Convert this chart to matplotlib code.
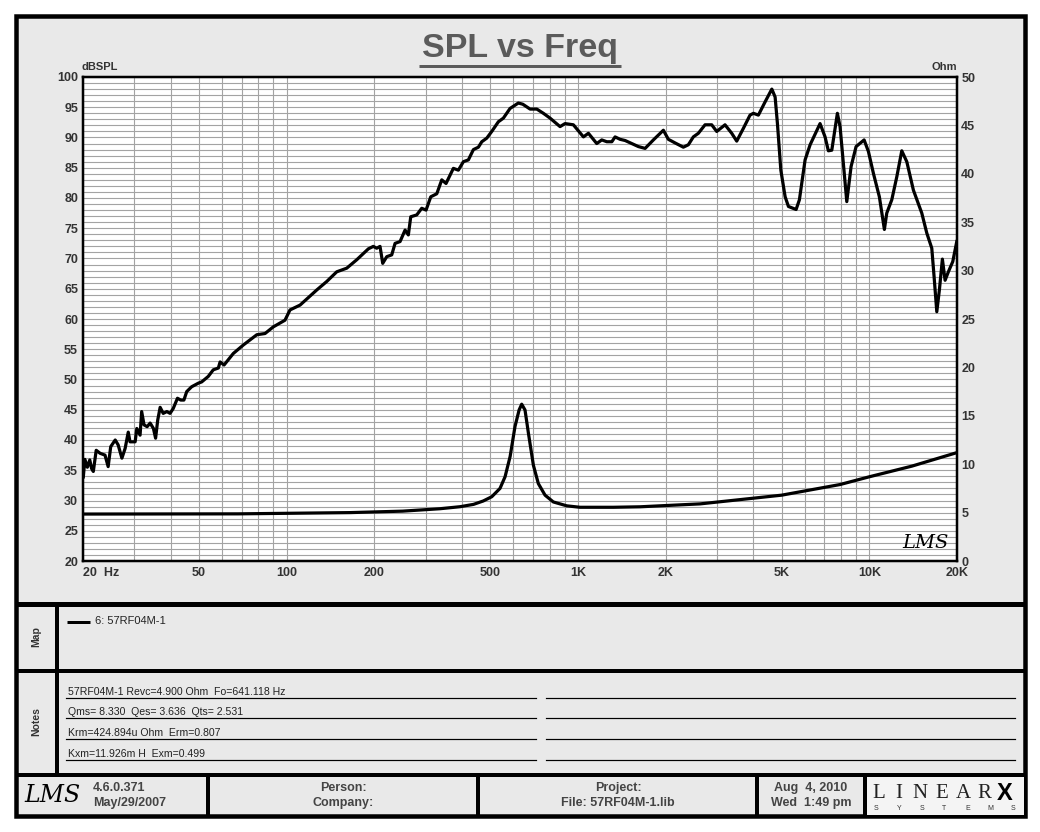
import numpy as np
import matplotlib.pyplot as plt
from matplotlib.patches import Rectangle
from matplotlib.ticker import NullFormatter

plt.rcParams['font.family'] = ['Liberation Sans', 'DejaVu Sans']

# ----------------------------
# Data
# ----------------------------
spl_freq = [20.05, 20.3, 20.7, 21.1, 21.4, 21.7, 22.2, 22.9, 23.8, 24.4, 24.9, 25.8, 26.4, 27.2,
            27.9, 28.6, 29.0, 30.2, 30.6, 31.4, 31.8, 32.4, 33.2, 34.0, 34.9, 35.5, 36.1, 36.8,
            37.7, 38.8, 39.8, 40.8, 42.2, 43.3, 44.4, 45.4, 47.2, 49.8, 51.1, 53.8, 56.0, 58.3,
            59.1, 61.0, 65.6, 71.0, 79.0, 84.3, 90.0, 98.7, 102.7, 111.2, 126.9, 137.3, 148.6,
            160.8, 174.1, 190.8, 198.4, 203.8, 209.2, 213.7, 220.6, 229.5, 235.6, 245.1, 255.0,
            261.7, 266.7, 279.6, 290.9, 301.0, 312.4, 327.6, 340.8, 352.5, 373.5, 388.6, 404.3,
            420.6, 437.6, 455.2, 467.6, 486.5, 505.9, 533.1, 554.6, 584.6, 624.3, 646.5, 684.8,
            722.1, 760.8, 802.1, 868, 903, 964.5, 1044, 1086, 1160, 1207, 1256, 1307, 1341, 1395,
            1452, 1531, 1612, 1700, 1815, 1964, 2043, 2155, 2300, 2393, 2489, 2590, 2730, 2878,
            2994, 3197, 3371, 3507, 3695, 3896, 4001, 4162, 4390, 4628, 4750, 4838, 4970, 5142,
            5278, 5607, 5755, 6020, 6264, 6776, 7050, 7236, 7434, 7770, 7937, 8370, 8659, 9008,
            9598, 9929, 10327, 10828, 11266, 11480, 11944, 12427, 12926, 13449, 14170, 15141,
            15753, 16386, 16687, 17048, 17401, 17818, 18203, 18683, 19344, 19964]
spl_db = [33.9, 36.8, 35.5, 36.7, 35.3, 34.8, 38.3, 37.8, 37.5, 35.6, 38.9, 40.0, 39.2, 37.0,
          38.6, 41.3, 39.7, 39.7, 41.9, 40.8, 44.7, 42.5, 42.2, 42.8, 41.9, 40.3, 43.3, 45.4,
          44.4, 44.7, 44.4, 45.2, 46.9, 46.6, 46.6, 48.0, 48.8, 49.4, 49.6, 50.5, 51.6, 51.9,
          52.9, 52.4, 54.3, 55.7, 57.4, 57.6, 58.7, 59.8, 61.5, 62.3, 64.8, 66.2, 67.8,
          68.4, 69.8, 71.6, 72.0, 71.7, 72.0, 69.2, 70.3, 70.6, 72.5, 72.8, 74.7,
          73.9, 76.9, 77.2, 78.3, 78.0, 80.2, 80.7, 83.0, 82.4, 84.9, 84.6, 86.0,
          86.3, 88.0, 88.4, 89.3, 89.9, 91.0, 92.6, 93.2, 94.8, 95.7, 95.5, 94.7,
          94.7, 94.0, 93.2, 91.8, 92.3, 92.1, 90.1, 90.7, 89.0, 89.6, 89.3, 89.3, 90.1, 89.7,
          89.5, 89.0, 88.5, 88.2, 89.6, 91.2, 89.7, 89.1, 88.4, 88.8, 90.1, 90.7, 92.1, 92.1,
          91.0, 92.1, 90.7, 89.4, 91.5, 93.7, 94.0, 93.7, 95.9, 98.0, 96.7, 92.3, 84.6, 80.2,
          78.6, 78.1, 79.7, 86.3, 88.8, 92.3, 90.1, 87.8, 87.9, 94.0, 91.8, 79.4, 85.2, 88.5,
          89.6, 87.7, 84.1, 80.2, 74.8, 77.5, 79.7, 83.5, 87.8, 86.0, 81.3, 77.5,
          74.2, 71.7, 67.0, 61.2, 64.8, 69.9, 66.4, 67.8, 69.5, 72.8]

imp_freq = [20, 68, 165, 250, 336, 394, 438, 473, 506, 540, 562, 585, 608, 628, 641, 658, 676,
            703, 731, 771, 823, 915, 1016, 1322, 1634, 2625, 5000, 7937, 10000, 14000, 20000]
imp_ohm = [4.85, 4.87, 5.0, 5.15, 5.4, 5.61, 5.85, 6.2, 6.64, 7.5, 8.7, 10.8, 13.9, 15.6, 16.2,
           15.6, 13.2, 9.9, 8.0, 6.8, 6.1, 5.7, 5.55, 5.55, 5.6, 5.9, 6.8, 7.9, 8.7, 9.8, 11.2]

x_ticks = [20, 50, 100, 200, 500, 1000, 2000, 5000, 10000, 20000]
x_labels = ["20  Hz", "50", "100", "200", "500", "1K", "2K", "5K", "10K", "20K"]
spl_ticks = list(range(20, 101, 5))
ohm_ticks = list(range(0, 51, 5))

notes = ["57RF04M-1 Revc=4.900 Ohm  Fo=641.118 Hz",
         "Qms= 8.330  Qes= 3.636  Qts= 2.531",
         "Krm=424.894u Ohm  Erm=0.807",
         "Kxm=11.926m H  Exm=0.499"]

W, H = 1040, 832
PX = 0.72  # points per pixel at 100 dpi
PANEL = '#e9e9e9'
TXT = '#333333'

fig = plt.figure(figsize=(W / 100, H / 100), dpi=100)
fig.patch.set_facecolor('white')

# pixel-space background layer for frame, panels and dividers
bg = fig.add_axes([0, 0, 1, 1])
bg.set_xlim(0, W)
bg.set_ylim(H, 0)
bg.axis('off')

bg.add_patch(Rectangle((16, 16), 1008.5, 799.5, fc=PANEL, ec='black', lw=4.5 * PX))
bg.add_patch(Rectangle((867, 777), 157, 38, fc='#f4f4f4', ec='none'))
for y, w in [(603.5, 5), (671, 4), (775, 4)]:
    bg.plot([16, 1024.5], [y, y], color='black', lw=w * PX, solid_capstyle='butt')
bg.plot([57, 57], [603.5, 775], color='black', lw=4 * PX, solid_capstyle='butt')
for x in [208, 478, 757, 865]:
    bg.plot([x, x], [775, 815.5], color='black', lw=4 * PX, solid_capstyle='butt')


def ptext(x, y, s, **kw):
    kw.setdefault('va', 'center')
    return fig.text(x / W, 1 - y / H, s, **kw)


# title
ptext(520, 48, "SPL vs Freq", ha='center', fontsize=24.5, fontweight='bold', color='#5b5b5b')
bg.plot([419, 621], [65.5, 65.5], color='#5b5b5b', lw=3 * PX, solid_capstyle='butt')
ptext(82, 67, "dBSPL", ha='left', fontsize=8, fontweight='bold', color=TXT)
ptext(957, 67, "Ohm", ha='right', fontsize=8, fontweight='bold', color=TXT)

# ----------------------------
# main chart
# ----------------------------
ax = fig.add_axes([83 / W, 1 - 561 / H, 874 / W, 484 / H])
ax.set_facecolor('white')
ax.set_xscale('log')
ax.set_xlim(20, 20000)
ax.set_ylim(20, 100)

grid_freqs = [k * 10 ** e for e in (1, 2, 3, 4) for k in range(1, 10) if 20 <= k * 10 ** e <= 20000]
ax.set_xticks(grid_freqs, minor=True)
ax.xaxis.set_minor_formatter(NullFormatter())
ax.set_xticks(x_ticks, x_labels, fontsize=9, fontweight='bold', color=TXT)
ax.get_xticklabels()[0].set_horizontalalignment('left')
ax.set_yticks(range(20, 101), minor=True)
ax.set_yticks(spl_ticks, [str(v) for v in spl_ticks], fontsize=9, fontweight='bold', color=TXT)
ax.tick_params(which='both', length=0)
ax.tick_params(axis='y', pad=3.5)
ax.tick_params(axis='x', pad=4)
ax.grid(which='both', axis='both', color='#a3a3a3', lw=0.8)
ax.set_axisbelow(True)
for sp in ax.spines.values():
    sp.set_linewidth(2.5 * PX)
    sp.set_color('black')

ax.plot(spl_freq, spl_db, color='black', lw=2.3, solid_joinstyle='round', zorder=3)

ax2 = ax.twinx()
ax2.set_ylim(0, 50)
ax2.set_yticks(ohm_ticks, [str(v) for v in ohm_ticks], fontsize=9, fontweight='bold', color=TXT)
ax2.tick_params(length=0, pad=3)
for sp in ax2.spines.values():
    sp.set_visible(False)
ax2.plot(imp_freq, imp_ohm, color='black', lw=2.3, solid_joinstyle='round', zorder=3)

ptext(925, 543, "LMS", ha='center', fontsize=14, style='italic', family='DejaVu Serif', color='black')

# ----------------------------
# map and notes panels
# ----------------------------
ptext(36, 637, "Map", ha='center', rotation=90, fontsize=7.5, fontweight='bold', color=TXT)
bg.plot([67, 90], [622, 622], color='black', lw=3 * PX, solid_capstyle='butt')
ptext(95, 621, "6: 57RF04M-1", ha='left', fontsize=8, color='#222222')

ptext(36, 722, "Notes", ha='center', rotation=90, fontsize=7.5, fontweight='bold', color=TXT)
for i, y in enumerate([692, 712, 733, 754]):
    ptext(68, y, notes[i], ha='left', fontsize=7.6, color='#222222')
    bg.plot([66, 536], [y + 6, y + 6], color='black', lw=1.2 * PX)
    bg.plot([546, 1015], [y + 6, y + 6], color='black', lw=1.2 * PX)

# ----------------------------
# footer
# ----------------------------
ptext(52, 796, "LMS", ha='center', fontsize=17, style='italic', family='DejaVu Serif', color='black')
ptext(93, 788, "4.6.0.371", ha='left', fontsize=9, fontweight='bold', color='#444444')
ptext(93, 803, "May/29/2007", ha='left', fontsize=9, fontweight='bold', color='#444444')
ptext(343, 788, "Person:", ha='center', fontsize=9, fontweight='bold', color='#444444')
ptext(343, 803, "Company:", ha='center', fontsize=9, fontweight='bold', color='#444444')
ptext(618, 788, "Project:", ha='center', fontsize=9, fontweight='bold', color='#444444')
ptext(618, 803, "File: 57RF04M-1.lib", ha='center', fontsize=9, fontweight='bold', color='#444444')
ptext(811, 788, "Aug  4, 2010", ha='center', fontsize=9, fontweight='bold', color='#444444')
ptext(811, 803, "Wed  1:49 pm", ha='center', fontsize=9, fontweight='bold', color='#444444')

for ch, x in zip("LINEAR", [879, 899, 920, 942, 963, 984]):
    ptext(x, 793, ch, ha='center', fontsize=15, family='Liberation Serif', color='#222222')
ptext(1005, 793, "X", ha='center', fontsize=17, fontweight='bold', color='black')
for ch, x in zip("SYSTEMS", np.linspace(876, 1013, 7)):
    ptext(x, 808, ch, ha='center', fontsize=5, color='#333333')

fig.savefig("out.png", dpi=100, facecolor='white')
